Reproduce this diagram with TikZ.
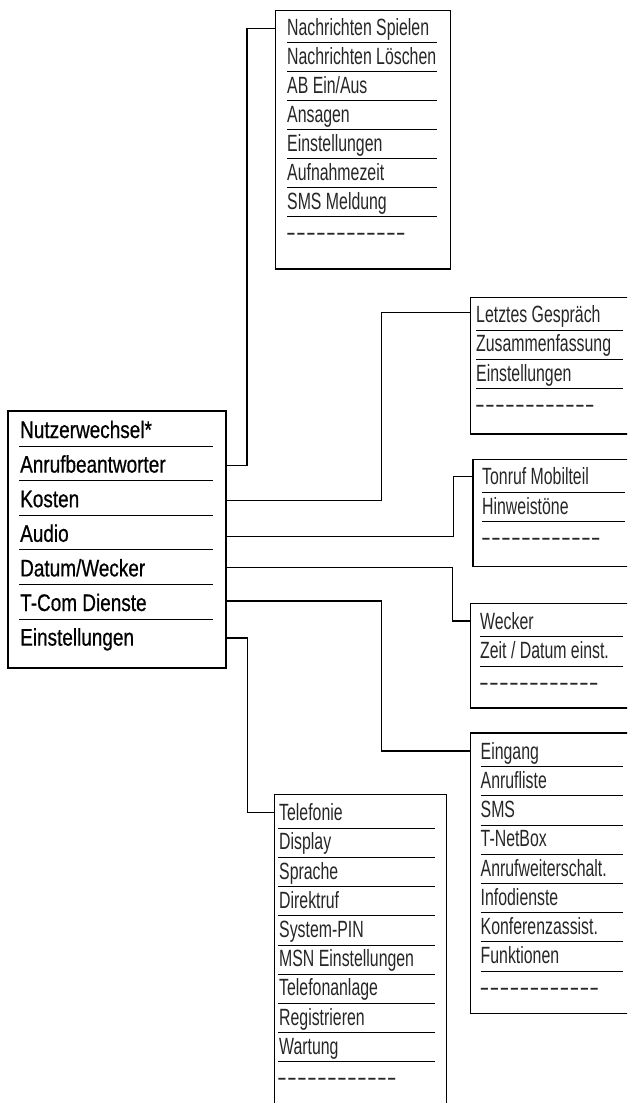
\documentclass[tikz,border=0pt]{standalone}
\usepackage{fontspec}
\newfontfamily\mainf[FakeStretch=0.79,FakeBold=0.6]{Liberation Sans}
\newfontfamily\subf[FakeStretch=0.675]{Liberation Sans}
\newfontfamily\dashf[FakeStretch=1.25]{Liberation Sans}
\newcommand\dashrow{-\kern0.2pt-\kern0.2pt-\kern0.2pt-\kern0.2pt-\kern0.2pt-\kern0.2pt-\kern0.2pt-\kern0.2pt-\kern0.2pt-\kern0.2pt-\kern0.2pt-}
\tikzset{
  mbox/.style={draw, line width=2pt, anchor=north west, inner sep=0pt},
  sbox/.style={draw, line width=1.3pt, anchor=north west, inner sep=0pt},
  conn/.style={line width=1.3pt},
  uline/.style={line width=0.9pt},
  mtext/.style={anchor=base west, inner sep=0pt, font=\mainf\fontsize{24}{28}\selectfont},
  stext/.style={anchor=base west, inner sep=0pt, text=black!85, font=\subf\fontsize{23.5}{28}\selectfont},
  dtext/.style={anchor=base west, inner sep=0pt, text=black!85, font=\dashf\fontsize{23.5}{28}\selectfont}
}
\begin{document}
\begin{tikzpicture}[x=1pt,y=-1pt]
\useasboundingbox (0,0) rectangle (627,1103);
\clip (0,0) rectangle (627,1103);

% main box
\node[mbox, minimum width=217.4pt, minimum height=256.7pt] (M) at (7.3,410) {};
\foreach \t [count=\i] in {Nutzerwechsel*,Anrufbeantworter,Kosten,Audio,Datum/Wecker,T-Com Dienste,Einstellungen}{
  \node[mtext] (m\i) at (20,{446+34.6*(\i-1)-8}) {\t};
}
\foreach \i in {1,...,6}{
  \draw[uline] (19.3,{446+34.6*(\i-1)}) -- (213,{446+34.6*(\i-1)});
}

% sub boxes
\node[sbox, minimum width=175pt, minimum height=258.3pt] (B1) at (275,10) {};
\node[sbox, minimum width=170pt, minimum height=136.6pt] (B2) at (470,296.7) {};
\node[sbox, minimum width=167.7pt, minimum height=107pt] (B3) at (472.3,459) {};
\node[sbox, minimum width=170pt, minimum height=104.6pt] (B4) at (470,602.7) {};
\node[sbox, minimum width=170pt, minimum height=280.4pt] (B5) at (470,732.3) {};
\node[sbox, minimum width=172pt, minimum height=330pt] (B6) at (274,794) {};

% B1 entries
\foreach \t [count=\i] in {Nachrichten Spielen,Nachrichten Löschen,AB Ein/Aus,Ansagen,Einstellungen,Aufnahmezeit,SMS Meldung}{
  \node[stext] (b1t\i) at (287,{42.7+29*(\i-1)-7.5}) {\t};
  \draw[uline] (287,{42.7+29*(\i-1)}) -- (437,{42.7+29*(\i-1)});
}
\node[dtext] (b1d) at (286,{42.7+29*6+24}) {\dashrow};

% B2 entries
\foreach \t [count=\i] in {Letztes Gespräch,Zusammenfassung,Einstellungen}{
  \node[stext] (b2t\i) at (476,{330+29.3*(\i-1)-7.5}) {\t};
  \draw[uline] (476,{330+29.3*(\i-1)}) -- (623,{330+29.3*(\i-1)});
}
\node[dtext] (b2d) at (475,{330+29.3*2+24}) {\dashrow};

% B3 entries
\foreach \t [count=\i] in {Tonruf Mobilteil,Hinweistöne}{
  \node[stext] (b3t\i) at (482,{492.3+29.4*(\i-1)-7.5}) {\t};
  \draw[uline] (482,{492.3+29.4*(\i-1)}) -- (625,{492.3+29.4*(\i-1)});
}
\node[dtext] (b3d) at (481,{492.3+29.4+24}) {\dashrow};

% B4 entries
\foreach \t [count=\i] in {Wecker,Zeit / Datum einst.}{
  \node[stext] (b4t\i) at (480,{636.7+29.3*(\i-1)-7.5}) {\t};
  \draw[uline] (480,{636.7+29.3*(\i-1)}) -- (623,{636.7+29.3*(\i-1)});
}
\node[dtext] (b4d) at (479,{636.7+29.3+24}) {\dashrow};

% B5 entries
\foreach \t [count=\i] in {Eingang,Anrufliste,SMS,T-NetBox,Anrufweiterschalt.,Infodienste,Konferenzassist.,Funktionen}{
  \node[stext] (b5t\i) at (480.5,{766.7+29.2*(\i-1)-7.5}) {\t};
  \draw[uline] (480.5,{766.7+29.2*(\i-1)}) -- (623,{766.7+29.2*(\i-1)});
}
\node[dtext] (b5d) at (479.5,{766.7+29.2*7+24}) {\dashrow};

% B6 entries
\foreach \t [count=\i] in {Telefonie,Display,Sprache,Direktruf,System-PIN,MSN Einstellungen,Telefonanlage,Registrieren,Wartung}{
  \node[stext] (b6t\i) at (279,{828.3+29.17*(\i-1)-7.5}) {\t};
  \draw[uline] (278,{828.3+29.17*(\i-1)}) -- (435,{828.3+29.17*(\i-1)});
}
\node[dtext] (b6d) at (277,{828.3+29.17*8+24}) {\dashrow};

% connector start levels
\coordinate (s1) at (0,465.7);
\coordinate (s2) at (0,500.7);
\coordinate (s3) at (0,536.7);
\coordinate (s4) at (0,567.3);
\coordinate (s5) at (0,601);
\coordinate (s6) at (0,638);

\draw[conn] (M.east |- s1) -- (247,465.7) |- ([yshift=-18.3pt]B1.north west);
\draw[conn] (M.east |- s2) -- (381.7,500.7) |- ([yshift=-16pt]B2.north west);
\draw[conn] (M.east |- s3) -- (453.3,536.7) |- ([yshift=-17.7pt]B3.north west);
\draw[conn] (M.east |- s4) -- (452.7,567.3) |- ([yshift=-18.3pt]B4.north west);
\draw[conn] (M.east |- s5) -- (381.7,601) |- ([yshift=-18.7pt]B5.north west);
\draw[conn] (M.east |- s6) -- (247.5,638) |- ([yshift=-18.3pt]B6.north west);
\end{tikzpicture}
\end{document}
